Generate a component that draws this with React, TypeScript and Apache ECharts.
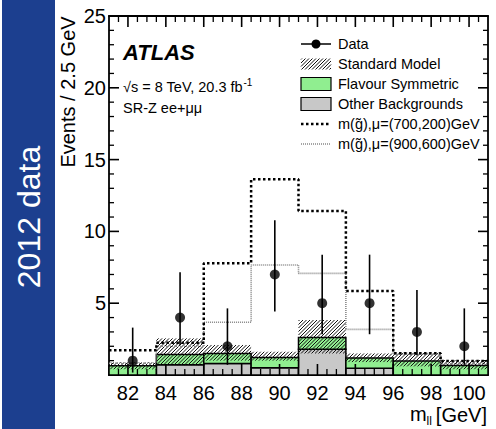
import React, { useEffect, useRef } from 'react';
import * as echarts from 'echarts';

const FONT = "'Liberation Sans', Arial, Helvetica, sans-serif";

// Histogram binning (m_ll, GeV) and tick labels
const binEdges = [81, 83.5, 86, 88.5, 91, 93.5, 96, 98.5, 101];
const xTickLabels = [82, 84, 86, 88, 90, 92, 94, 96, 98, 100];
const yTicks = [0, 5, 10, 15, 20, 25];

// Data and Poisson error bars
const dataCounts = [1, 4, 2, 7, 5, 5, 3, 2];
const dataErrLow = [0.17, 2.09, 0.71, 4.42, 2.84, 2.84, 1.37, 0.71];
const dataErrHigh = [3.3, 7.16, 4.64, 10.77, 8.38, 8.38, 5.92, 4.64];

// Stacked backgrounds
const otherBkg = [0, 0.72, 0.8, 0.5, 1.79, 0.47, 0, 0];
const smTotal = [0.64, 1.42, 1.5, 1.21, 2.62, 1.19, 0.98, 0.66];
const smBandLow = [0.4, 0.7, 1.0, 1.0, 1.5, 0.9, 0.6, 0.4];
const smBandHigh = [0.88, 2.55, 2.09, 1.62, 3.83, 1.5, 1.55, 1.04];

// Signal benchmarks
const signal700200 = [1.72, 2.25, 7.78, 13.63, 11.42, 5.85, 1.52, 0.98];
const signal900600 = [0.82, 2.0, 3.67, 7.66, 7.08, 3.18, 1.45, 0.78];

const GREEN = '#90ee90';
const GRAY = '#c8c8c8';
const HATCH_STYLE = { stroke: '#111', lineWidth: 1 };

const X_MIN = binEdges[0];
const X_MAX = binEdges[binEdges.length - 1];
const Y_MIN = yTicks[0];
const Y_MAX = yTicks[yTicks.length - 1];

function hatchLines(x0: number, y0: number, x1: number, y1: number, step: number, style: any) {
  const out: any[] = [];
  const cStart = Math.ceil((x0 + y0) / step) * step;
  for (let c = cStart; c <= x1 + y1; c += step) {
    const ya = Math.max(y0, c - x1);
    const yb = Math.min(y1, c - x0);
    if (yb - ya > 0.3) {
      out.push({ type: 'line', shape: { x1: c - ya, y1: ya, x2: c - yb, y2: yb }, style });
    }
  }
  return out;
}

function measure(text: string, font: string) {
  const ctx = document.createElement('canvas').getContext('2d')!;
  ctx.font = font;
  return ctx.measureText(text).width;
}

function stepData(vals: number[]) {
  const d: number[][] = vals.map((v, i) => [binEdges[i], v]);
  d.push([binEdges[binEdges.length - 1], vals[vals.length - 1]]);
  return d;
}

function rectSeries(name: string, lows: number[], highs: number[], fill: string) {
  return {
    type: 'custom',
    name,
    xAxisIndex: 0,
    yAxisIndex: 0,
    z: 1,
    data: lows.map((lo, i) => [binEdges[i], binEdges[i + 1], lo, highs[i]]),
    encode: { x: [0, 1], y: [2, 3] },
    renderItem: (params: any, api: any) => {
      const x0 = api.value(0), x1 = api.value(1), y0 = api.value(2), y1 = api.value(3);
      if (!(y1 > y0)) return null;
      const p0 = api.coord([x0, y1]);
      const p1 = api.coord([x1, y0]);
      return {
        type: 'rect',
        shape: { x: p0[0], y: p0[1], width: p1[0] - p0[0], height: p1[1] - p0[1] },
        style: { fill, stroke: '#000', lineWidth: 1.5 },
      };
    },
  };
}

// Inward axis ticks on all four sides, placed through the axis scales
function tickShapes(api: any) {
  const out: any[] = [];
  for (let v = X_MIN + 0.5; v < X_MAX; v += 0.5) {
    const major = xTickLabels.includes(v);
    const L = major ? 11 : 6;
    const b = api.coord([v, Y_MIN]);
    const t = api.coord([v, Y_MAX]);
    const st = { stroke: '#000', lineWidth: major ? 1.6 : 1.3 };
    out.push({ type: 'line', shape: { x1: b[0], y1: b[1], x2: b[0], y2: b[1] - L }, style: st });
    out.push({ type: 'line', shape: { x1: t[0], y1: t[1], x2: t[0], y2: t[1] + L }, style: st });
  }
  for (let v = Y_MIN + 1; v < Y_MAX; v += 1) {
    const major = yTicks.includes(v);
    const L = major ? 10 : 5;
    const l = api.coord([X_MIN, v]);
    const r = api.coord([X_MAX, v]);
    const st = { stroke: '#000', lineWidth: major ? 1.6 : 1.3 };
    out.push({ type: 'line', shape: { x1: l[0], y1: l[1], x2: l[0] + L, y2: l[1] }, style: st });
    out.push({ type: 'line', shape: { x1: r[0], y1: r[1], x2: r[0] - L, y2: r[1] }, style: st });
  }
  return out;
}

export default function App() {
  const ref = useRef<HTMLDivElement>(null);

  useEffect(() => {
    if (!ref.current) return;
    const chart = echarts.init(ref.current, null, { renderer: 'svg' });

    const graphics: any[] = [];
    graphics.push({ type: 'rect', shape: { x: 2, y: 0, width: 53, height: 429 }, style: { fill: '#1c3f8f' } });
    graphics.push({
      type: 'text', x: 29, y: 217, rotation: Math.PI / 2,
      style: { text: '2012 data', fill: '#fff', font: `32px ${FONT}`, align: 'center', verticalAlign: 'middle', textAlign: 'center', textVerticalAlign: 'middle' },
    });
    graphics.push({
      type: 'text', x: 68, y: 92, rotation: Math.PI / 2,
      style: { text: 'Events / 2.5 GeV', fill: '#000', font: `20px ${FONT}`, align: 'center', verticalAlign: 'middle', textAlign: 'center', textVerticalAlign: 'middle' },
    });
    // x axis title: m_ll [GeV]
    const f20 = `20px ${FONT}`;
    const f12 = `12px ${FONT}`;
    const wGeV = measure('[GeV]', f20);
    const wll = measure('ll', f12);
    const wm = measure('m', f20);
    const xRight = 487;
    const xGeV = xRight - wGeV;
    const xll = xGeV - 4 - wll;
    const xm = xll - wm;
    graphics.push({ type: 'text', x: xm, y: 414, style: { text: 'm', fill: '#000', font: f20, verticalAlign: 'middle', textVerticalAlign: 'middle' } });
    graphics.push({ type: 'text', x: xll, y: 421, style: { text: 'll', fill: '#000', font: f12, verticalAlign: 'middle', textVerticalAlign: 'middle' } });
    graphics.push({ type: 'text', x: xGeV, y: 415, style: { text: '[GeV]', fill: '#000', font: f20, verticalAlign: 'middle', textVerticalAlign: 'middle' } });

    // ATLAS labels
    graphics.push({ type: 'text', x: 123, y: 52, style: { text: 'ATLAS', fill: '#000', font: `italic bold 22px ${FONT}`, verticalAlign: 'middle', textVerticalAlign: 'middle' } });
    const f145 = `14.5px ${FONT}`;
    const lumiText = '\u221As = 8 TeV, 20.3 fb';
    const wLumi = measure(lumiText, f145);
    graphics.push({ type: 'text', x: 123, y: 87, style: { text: lumiText, fill: '#000', font: f145, verticalAlign: 'middle', textVerticalAlign: 'middle' } });
    graphics.push({ type: 'text', x: 123 + wLumi + 0.5, y: 82, style: { text: '-1', fill: '#000', font: `10px ${FONT}`, verticalAlign: 'middle', textVerticalAlign: 'middle' } });
    graphics.push({ type: 'text', x: 123, y: 108, style: { text: 'SR-Z ee+\u03bc\u03bc', fill: '#000', font: f145, verticalAlign: 'middle', textVerticalAlign: 'middle' } });

    // Legend
    const lx0 = 301, lx1 = 331, tx = 338;
    const rows = [44, 64, 84, 104, 124, 144];
    const labels = ['Data', 'Standard Model', 'Flavour Symmetric', 'Other Backgrounds', 'm(g\u0303),\u03bc=(700,200)GeV', 'm(g\u0303),\u03bc=(900,600)GeV'];
    labels.forEach((t, i) => {
      graphics.push({ type: 'text', x: tx, y: rows[i], style: { text: t, fill: '#000', font: f145, verticalAlign: 'middle', textVerticalAlign: 'middle' } });
    });
    graphics.push({ type: 'line', shape: { x1: lx0, y1: rows[0], x2: lx1, y2: rows[0] }, style: { stroke: '#000', lineWidth: 1.5 } });
    graphics.push({ type: 'circle', shape: { cx: (lx0 + lx1) / 2, cy: rows[0], r: 4.5 }, style: { fill: '#000' } });
    graphics.push({ type: 'group', children: hatchLines(lx0, rows[1] - 5.5, lx1, rows[1] + 5.5, 3.5, HATCH_STYLE) });
    graphics.push({ type: 'rect', shape: { x: lx0, y: rows[2] - 6.5, width: lx1 - lx0, height: 13 }, style: { fill: GREEN, stroke: '#000', lineWidth: 1.2 } });
    graphics.push({ type: 'rect', shape: { x: lx0, y: rows[3] - 6.5, width: lx1 - lx0, height: 13 }, style: { fill: GRAY, stroke: '#000', lineWidth: 1.2 } });
    graphics.push({ type: 'line', shape: { x1: lx0, y1: rows[4], x2: lx1, y2: rows[4] }, style: { stroke: '#000', lineWidth: 2.5, lineDash: [2.5, 2.5] } });
    graphics.push({ type: 'line', shape: { x1: lx0, y1: rows[5], x2: lx1, y2: rows[5] }, style: { stroke: '#888', lineWidth: 1.6, lineDash: [1, 1] } });

    const xAxisBase = {
      type: 'value', min: X_MIN, max: X_MAX, splitNumber: 10,
      axisLine: { show: true, onZero: false, lineStyle: { color: '#000', width: 1.8 } },
      splitLine: { show: false },
      axisTick: { show: false },
      minorTick: { show: false },
    };
    const yAxisBase = {
      type: 'value', min: Y_MIN, max: Y_MAX, interval: yTicks[1] - yTicks[0],
      axisLine: { show: true, onZero: false, lineStyle: { color: '#000', width: 1.8 } },
      splitLine: { show: false },
      axisTick: { show: false },
      minorTick: { show: false },
    };

    const option: any = {
      animation: false,
      textStyle: { fontFamily: FONT },
      grid: { left: 109, right: 8, top: 16, bottom: 54, containLabel: false },
      xAxis: [
        {
          ...xAxisBase, position: 'bottom',
          axisLabel: { show: true, showMinLabel: false, showMaxLabel: false, fontSize: 20, color: '#000', fontFamily: FONT, margin: 8 },
        },
        { ...xAxisBase, position: 'top', axisLabel: { show: false } },
      ],
      yAxis: [
        {
          ...yAxisBase, position: 'left',
          axisLabel: { show: true, showMinLabel: false, fontSize: 20, color: '#000', fontFamily: FONT, margin: 3 },
        },
        { ...yAxisBase, position: 'right', axisLabel: { show: false } },
      ],
      graphic: { elements: graphics },
      series: [
        rectSeries('Other Backgrounds', otherBkg.map(() => 0), otherBkg, GRAY),
        rectSeries('Flavour Symmetric', otherBkg, smTotal, GREEN),
        {
          type: 'custom',
          name: 'Standard Model',
          xAxisIndex: 0,
          yAxisIndex: 0,
          z: 1,
          data: smBandLow.map((lo, i) => [binEdges[i], binEdges[i + 1], lo, smBandHigh[i]]),
          encode: { x: [0, 1], y: [2, 3] },
          renderItem: (params: any, api: any) => {
            const p0 = api.coord([api.value(0), api.value(3)]);
            const p1 = api.coord([api.value(1), api.value(2)]);
            return { type: 'group', children: hatchLines(p0[0], p0[1], p1[0], p1[1], 3.5, HATCH_STYLE) };
          },
        },
        {
          type: 'line', name: 'sig900600', xAxisIndex: 0, yAxisIndex: 0, step: 'end', symbol: 'none', z: 2,
          data: stepData(signal900600),
          lineStyle: { color: '#888', width: 1.6, type: [1, 1] },
        },
        {
          type: 'line', name: 'sig700200', xAxisIndex: 0, yAxisIndex: 0, step: 'end', symbol: 'none', z: 2,
          data: stepData(signal700200),
          lineStyle: { color: '#000', width: 2.5, type: [2.5, 2.5] },
        },
        {
          type: 'custom',
          name: 'Data errors',
          xAxisIndex: 0,
          yAxisIndex: 0,
          z: 6,
          data: dataCounts.map((v, i) => [(binEdges[i] + binEdges[i + 1]) / 2, dataErrLow[i], dataErrHigh[i]]),
          encode: { x: 0, y: [1, 2] },
          renderItem: (params: any, api: any) => {
            const a = api.coord([api.value(0), api.value(1)]);
            const b = api.coord([api.value(0), api.value(2)]);
            const children: any[] = [
              { type: 'line', shape: { x1: a[0], y1: a[1], x2: b[0], y2: b[1] }, style: { stroke: '#000', lineWidth: 1.6 } },
            ];
            if (params.dataIndex === 0) children.push(...tickShapes(api));
            return { type: 'group', children };
          },
        },
        {
          type: 'scatter', name: 'Data', xAxisIndex: 0, yAxisIndex: 0, z: 7,
          data: dataCounts.map((v, i) => [(binEdges[i] + binEdges[i + 1]) / 2, v]),
          symbol: 'circle', symbolSize: 10,
          itemStyle: { color: '#000' },
        },
      ],
    };

    chart.setOption(option);
    return () => chart.dispose();
  }, []);

  return (
    <div
      ref={ref}
      style={{ position: 'fixed', left: 0, top: 0, width: 496, height: 429, background: '#fff' }}
    />
  );
}
